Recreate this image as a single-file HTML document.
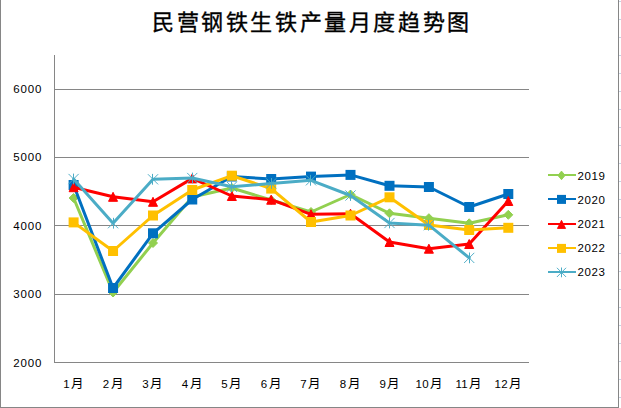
<!DOCTYPE html>
<html lang="zh-CN"><head><meta charset="utf-8"><style>
html,body{margin:0;padding:0;background:#fff;width:621px;height:408px;overflow:hidden}
svg{display:block}
.t{font-family:"Liberation Sans",sans-serif;font-size:11.5px;fill:#000}
.n{letter-spacing:0.8px}
.d{letter-spacing:0.4px}
.m{font-size:12.5px}
.title{font-family:"Liberation Serif",serif;font-size:22px;font-weight:500;letter-spacing:2.6px;fill:#000;stroke:#000;stroke-width:0.35px}
</style></head><body>
<svg width="621" height="408" viewBox="0 0 621 408">
<line x1="54" y1="89.5" x2="529" y2="89.5" stroke="#868686" stroke-width="1"/>
<line x1="54" y1="157.5" x2="529" y2="157.5" stroke="#868686" stroke-width="1"/>
<line x1="54" y1="225.5" x2="529" y2="225.5" stroke="#868686" stroke-width="1"/>
<line x1="54" y1="294.5" x2="529" y2="294.5" stroke="#868686" stroke-width="1"/>
<line x1="54" y1="362.5" x2="529" y2="362.5" stroke="#868686" stroke-width="1"/>
<line x1="54.5" y1="55" x2="54.5" y2="363" stroke="#868686" stroke-width="1"/>
<polyline points="73.60,198.00 113.05,292.50 153.00,243.00 192.25,197.00 231.85,188.00 271.20,200.00 311.00,212.00 350.50,194.50 389.50,213.30 428.90,218.20 469.20,223.30 508.30,214.80" fill="none" stroke="#92D050" stroke-width="3" stroke-linejoin="round" stroke-linecap="round"/>
<path d="M73.60 193.50L78.10 198.00L73.60 202.50L69.10 198.00Z" fill="#92D050" stroke="#92D050" stroke-width="1.00" stroke-linejoin="round"/>
<path d="M113.05 288.00L117.55 292.50L113.05 297.00L108.55 292.50Z" fill="#92D050" stroke="#92D050" stroke-width="1.00" stroke-linejoin="round"/>
<path d="M153.00 238.50L157.50 243.00L153.00 247.50L148.50 243.00Z" fill="#92D050" stroke="#92D050" stroke-width="1.00" stroke-linejoin="round"/>
<path d="M192.25 192.50L196.75 197.00L192.25 201.50L187.75 197.00Z" fill="#92D050" stroke="#92D050" stroke-width="1.00" stroke-linejoin="round"/>
<path d="M231.85 183.50L236.35 188.00L231.85 192.50L227.35 188.00Z" fill="#92D050" stroke="#92D050" stroke-width="1.00" stroke-linejoin="round"/>
<path d="M271.20 195.50L275.70 200.00L271.20 204.50L266.70 200.00Z" fill="#92D050" stroke="#92D050" stroke-width="1.00" stroke-linejoin="round"/>
<path d="M311.00 207.50L315.50 212.00L311.00 216.50L306.50 212.00Z" fill="#92D050" stroke="#92D050" stroke-width="1.00" stroke-linejoin="round"/>
<path d="M350.50 190.00L355.00 194.50L350.50 199.00L346.00 194.50Z" fill="#92D050" stroke="#92D050" stroke-width="1.00" stroke-linejoin="round"/>
<path d="M389.50 208.80L394.00 213.30L389.50 217.80L385.00 213.30Z" fill="#92D050" stroke="#92D050" stroke-width="1.00" stroke-linejoin="round"/>
<path d="M428.90 213.70L433.40 218.20L428.90 222.70L424.40 218.20Z" fill="#92D050" stroke="#92D050" stroke-width="1.00" stroke-linejoin="round"/>
<path d="M469.20 218.80L473.70 223.30L469.20 227.80L464.70 223.30Z" fill="#92D050" stroke="#92D050" stroke-width="1.00" stroke-linejoin="round"/>
<path d="M508.30 210.30L512.80 214.80L508.30 219.30L503.80 214.80Z" fill="#92D050" stroke="#92D050" stroke-width="1.00" stroke-linejoin="round"/>
<polyline points="73.60,185.00 113.05,288.00 153.00,233.30 192.25,199.50 231.85,176.50 271.20,179.00 311.00,176.60 350.50,174.90 389.50,185.80 428.90,187.00 469.20,207.00 508.30,194.00" fill="none" stroke="#0070C0" stroke-width="3" stroke-linejoin="round" stroke-linecap="round"/>
<rect x="68.60" y="180.00" width="10.00" height="10.00" fill="#0070C0"/>
<rect x="108.05" y="283.00" width="10.00" height="10.00" fill="#0070C0"/>
<rect x="148.00" y="228.30" width="10.00" height="10.00" fill="#0070C0"/>
<rect x="187.25" y="194.50" width="10.00" height="10.00" fill="#0070C0"/>
<rect x="226.85" y="171.50" width="10.00" height="10.00" fill="#0070C0"/>
<rect x="266.20" y="174.00" width="10.00" height="10.00" fill="#0070C0"/>
<rect x="306.00" y="171.60" width="10.00" height="10.00" fill="#0070C0"/>
<rect x="345.50" y="169.90" width="10.00" height="10.00" fill="#0070C0"/>
<rect x="384.50" y="180.80" width="10.00" height="10.00" fill="#0070C0"/>
<rect x="423.90" y="182.00" width="10.00" height="10.00" fill="#0070C0"/>
<rect x="464.20" y="202.00" width="10.00" height="10.00" fill="#0070C0"/>
<rect x="503.30" y="189.00" width="10.00" height="10.00" fill="#0070C0"/>
<polyline points="73.60,187.20 113.05,196.80 153.00,201.80 192.25,178.40 231.85,196.00 271.20,199.70 311.00,214.30 350.50,213.70 389.50,242.00 428.90,248.70 469.20,244.00 508.30,201.00" fill="none" stroke="#FF0000" stroke-width="3" stroke-linejoin="round" stroke-linecap="round"/>
<path d="M73.60 182.70L78.10 191.70L69.10 191.70Z" fill="#FF0000" stroke="#FF0000" stroke-width="1.00" stroke-linejoin="round"/>
<path d="M113.05 192.30L117.55 201.30L108.55 201.30Z" fill="#FF0000" stroke="#FF0000" stroke-width="1.00" stroke-linejoin="round"/>
<path d="M153.00 197.30L157.50 206.30L148.50 206.30Z" fill="#FF0000" stroke="#FF0000" stroke-width="1.00" stroke-linejoin="round"/>
<path d="M192.25 173.90L196.75 182.90L187.75 182.90Z" fill="#FF0000" stroke="#FF0000" stroke-width="1.00" stroke-linejoin="round"/>
<path d="M231.85 191.50L236.35 200.50L227.35 200.50Z" fill="#FF0000" stroke="#FF0000" stroke-width="1.00" stroke-linejoin="round"/>
<path d="M271.20 195.20L275.70 204.20L266.70 204.20Z" fill="#FF0000" stroke="#FF0000" stroke-width="1.00" stroke-linejoin="round"/>
<path d="M311.00 209.80L315.50 218.80L306.50 218.80Z" fill="#FF0000" stroke="#FF0000" stroke-width="1.00" stroke-linejoin="round"/>
<path d="M350.50 209.20L355.00 218.20L346.00 218.20Z" fill="#FF0000" stroke="#FF0000" stroke-width="1.00" stroke-linejoin="round"/>
<path d="M389.50 237.50L394.00 246.50L385.00 246.50Z" fill="#FF0000" stroke="#FF0000" stroke-width="1.00" stroke-linejoin="round"/>
<path d="M428.90 244.20L433.40 253.20L424.40 253.20Z" fill="#FF0000" stroke="#FF0000" stroke-width="1.00" stroke-linejoin="round"/>
<path d="M469.20 239.50L473.70 248.50L464.70 248.50Z" fill="#FF0000" stroke="#FF0000" stroke-width="1.00" stroke-linejoin="round"/>
<path d="M508.30 196.50L512.80 205.50L503.80 205.50Z" fill="#FF0000" stroke="#FF0000" stroke-width="1.00" stroke-linejoin="round"/>
<polyline points="73.60,222.40 113.05,251.00 153.00,215.50 192.25,190.00 231.85,175.70 271.20,188.60 311.00,222.00 350.50,215.50 389.50,197.30 428.90,225.00 469.20,230.00 508.30,227.80" fill="none" stroke="#FFC000" stroke-width="3" stroke-linejoin="round" stroke-linecap="round"/>
<rect x="68.60" y="217.40" width="10.00" height="10.00" fill="#FFC000"/>
<rect x="108.05" y="246.00" width="10.00" height="10.00" fill="#FFC000"/>
<rect x="148.00" y="210.50" width="10.00" height="10.00" fill="#FFC000"/>
<rect x="187.25" y="185.00" width="10.00" height="10.00" fill="#FFC000"/>
<rect x="226.85" y="170.70" width="10.00" height="10.00" fill="#FFC000"/>
<rect x="266.20" y="183.60" width="10.00" height="10.00" fill="#FFC000"/>
<rect x="306.00" y="217.00" width="10.00" height="10.00" fill="#FFC000"/>
<rect x="345.50" y="210.50" width="10.00" height="10.00" fill="#FFC000"/>
<rect x="384.50" y="192.30" width="10.00" height="10.00" fill="#FFC000"/>
<rect x="423.90" y="220.00" width="10.00" height="10.00" fill="#FFC000"/>
<rect x="464.20" y="225.00" width="10.00" height="10.00" fill="#FFC000"/>
<rect x="503.30" y="222.80" width="10.00" height="10.00" fill="#FFC000"/>
<polyline points="73.60,179.00 113.05,223.20 153.00,179.30 192.25,178.00 231.85,186.80 271.20,183.40 311.00,180.30 350.50,195.50 389.50,223.00 428.90,225.20 469.20,257.90" fill="none" stroke="#4BACC6" stroke-width="3" stroke-linejoin="round" stroke-linecap="round"/>
<path d="M73.50 173.60V184.40" stroke="#4BACC6" stroke-width="1" fill="none"/><path d="M68.50 173.90L78.70 184.10M68.50 184.10L78.70 173.90" stroke="#4BACC6" stroke-width="0.95" fill="none"/>
<path d="M113.50 217.80V228.60" stroke="#4BACC6" stroke-width="1" fill="none"/><path d="M107.95 218.10L118.15 228.30M107.95 228.30L118.15 218.10" stroke="#4BACC6" stroke-width="0.95" fill="none"/>
<path d="M152.50 173.90V184.70" stroke="#4BACC6" stroke-width="1" fill="none"/><path d="M147.90 174.20L158.10 184.40M147.90 184.40L158.10 174.20" stroke="#4BACC6" stroke-width="0.95" fill="none"/>
<path d="M192.50 172.60V183.40" stroke="#4BACC6" stroke-width="1" fill="none"/><path d="M187.15 172.90L197.35 183.10M187.15 183.10L197.35 172.90" stroke="#4BACC6" stroke-width="0.95" fill="none"/>
<path d="M231.50 181.40V192.20" stroke="#4BACC6" stroke-width="1" fill="none"/><path d="M226.75 181.70L236.95 191.90M226.75 191.90L236.95 181.70" stroke="#4BACC6" stroke-width="0.95" fill="none"/>
<path d="M271.50 178.00V188.80" stroke="#4BACC6" stroke-width="1" fill="none"/><path d="M266.10 178.30L276.30 188.50M266.10 188.50L276.30 178.30" stroke="#4BACC6" stroke-width="0.95" fill="none"/>
<path d="M310.50 174.90V185.70" stroke="#4BACC6" stroke-width="1" fill="none"/><path d="M305.90 175.20L316.10 185.40M305.90 185.40L316.10 175.20" stroke="#4BACC6" stroke-width="0.95" fill="none"/>
<path d="M350.50 190.10V200.90" stroke="#4BACC6" stroke-width="1" fill="none"/><path d="M345.40 190.40L355.60 200.60M345.40 200.60L355.60 190.40" stroke="#4BACC6" stroke-width="0.95" fill="none"/>
<path d="M389.50 217.60V228.40" stroke="#4BACC6" stroke-width="1" fill="none"/><path d="M384.40 217.90L394.60 228.10M384.40 228.10L394.60 217.90" stroke="#4BACC6" stroke-width="0.95" fill="none"/>
<path d="M428.50 219.80V230.60" stroke="#4BACC6" stroke-width="1" fill="none"/><path d="M423.80 220.10L434.00 230.30M423.80 230.30L434.00 220.10" stroke="#4BACC6" stroke-width="0.95" fill="none"/>
<path d="M469.50 252.50V263.30" stroke="#4BACC6" stroke-width="1" fill="none"/><path d="M464.10 252.80L474.30 263.00M464.10 263.00L474.30 252.80" stroke="#4BACC6" stroke-width="0.95" fill="none"/>
<line x1="548" y1="175" x2="576" y2="175" stroke="#92D050" stroke-width="2"/>
<path d="M561.50 171.10L565.10 175.40L561.50 179.70L557.90 175.40Z" fill="#92D050" stroke="#92D050" stroke-width="0.90" stroke-linejoin="round"/>
<text x="577.5" y="179.8" class="t n" style="letter-spacing:0.6px">2019</text>
<line x1="548" y1="199" x2="576" y2="199" stroke="#0070C0" stroke-width="2"/>
<rect x="557.00" y="194.90" width="9.00" height="9.00" fill="#0070C0"/>
<text x="577.5" y="203.8" class="t n" style="letter-spacing:0.6px">2020</text>
<line x1="548" y1="224" x2="576" y2="224" stroke="#FF0000" stroke-width="2"/>
<path d="M561.50 220.35L565.55 228.45L557.45 228.45Z" fill="#FF0000" stroke="#FF0000" stroke-width="0.90" stroke-linejoin="round"/>
<text x="577.5" y="227.8" class="t n" style="letter-spacing:0.6px">2021</text>
<line x1="548" y1="248" x2="576" y2="248" stroke="#FFC000" stroke-width="2"/>
<rect x="557.00" y="243.90" width="9.00" height="9.00" fill="#FFC000"/>
<text x="577.5" y="251.8" class="t n" style="letter-spacing:0.6px">2022</text>
<line x1="548" y1="272" x2="576" y2="272" stroke="#4BACC6" stroke-width="2"/>
<path d="M561.50 267.51V277.29" stroke="#4BACC6" stroke-width="1" fill="none"/><path d="M556.91 267.81L566.09 276.99M556.91 276.99L566.09 267.81" stroke="#4BACC6" stroke-width="0.95" fill="none"/>
<text x="577.5" y="275.8" class="t n" style="letter-spacing:0.6px">2023</text>
<text x="13.3" y="92.8" class="t n">6000</text>
<text x="13.3" y="161.3" class="t n">5000</text>
<text x="13.3" y="229.8" class="t n">4000</text>
<text x="13.3" y="298.3" class="t n">3000</text>
<text x="13.3" y="366.8" class="t n">2000</text>
<text x="73.7" y="388" class="t" text-anchor="middle"><tspan class="d">1</tspan><tspan dx="1.2" class="m">月</tspan></text>
<text x="113.2" y="388" class="t" text-anchor="middle"><tspan class="d">2</tspan><tspan dx="1.2" class="m">月</tspan></text>
<text x="152.7" y="388" class="t" text-anchor="middle"><tspan class="d">3</tspan><tspan dx="1.2" class="m">月</tspan></text>
<text x="192.3" y="388" class="t" text-anchor="middle"><tspan class="d">4</tspan><tspan dx="1.2" class="m">月</tspan></text>
<text x="231.8" y="388" class="t" text-anchor="middle"><tspan class="d">5</tspan><tspan dx="1.2" class="m">月</tspan></text>
<text x="271.3" y="388" class="t" text-anchor="middle"><tspan class="d">6</tspan><tspan dx="1.2" class="m">月</tspan></text>
<text x="310.8" y="388" class="t" text-anchor="middle"><tspan class="d">7</tspan><tspan dx="1.2" class="m">月</tspan></text>
<text x="350.3" y="388" class="t" text-anchor="middle"><tspan class="d">8</tspan><tspan dx="1.2" class="m">月</tspan></text>
<text x="389.9" y="388" class="t" text-anchor="middle"><tspan class="d">9</tspan><tspan dx="1.2" class="m">月</tspan></text>
<text x="429.4" y="388" class="t" text-anchor="middle"><tspan class="d">10</tspan><tspan dx="1.2" class="m">月</tspan></text>
<text x="468.9" y="388" class="t" text-anchor="middle"><tspan class="d">11</tspan><tspan dx="1.2" class="m">月</tspan></text>
<text x="508.4" y="388" class="t" text-anchor="middle"><tspan class="d">12</tspan><tspan dx="1.2" class="m">月</tspan></text>
<line x1="0.5" y1="0" x2="0.5" y2="408" stroke="#868686"/>
<line x1="0" y1="407.5" x2="619" y2="407.5" stroke="#868686"/>
<line x1="618.5" y1="0" x2="618.5" y2="408" stroke="#868686"/>
<line x1="619" y1="1.5" x2="621" y2="1.5" stroke="#C8D2E4"/>
<line x1="619" y1="19.5" x2="621" y2="19.5" stroke="#C8D2E4"/>
<line x1="619" y1="37.5" x2="621" y2="37.5" stroke="#C8D2E4"/>
<line x1="619" y1="55.5" x2="621" y2="55.5" stroke="#C8D2E4"/>
<line x1="619" y1="73.5" x2="621" y2="73.5" stroke="#C8D2E4"/>
<line x1="619" y1="91.5" x2="621" y2="91.5" stroke="#C8D2E4"/>
<line x1="619" y1="109.5" x2="621" y2="109.5" stroke="#C8D2E4"/>
<line x1="619" y1="127.5" x2="621" y2="127.5" stroke="#C8D2E4"/>
<line x1="619" y1="145.5" x2="621" y2="145.5" stroke="#C8D2E4"/>
<line x1="619" y1="163.5" x2="621" y2="163.5" stroke="#C8D2E4"/>
<line x1="619" y1="181.5" x2="621" y2="181.5" stroke="#C8D2E4"/>
<line x1="619" y1="199.5" x2="621" y2="199.5" stroke="#C8D2E4"/>
<line x1="619" y1="217.5" x2="621" y2="217.5" stroke="#C8D2E4"/>
<line x1="619" y1="235.5" x2="621" y2="235.5" stroke="#C8D2E4"/>
<line x1="619" y1="253.5" x2="621" y2="253.5" stroke="#C8D2E4"/>
<line x1="619" y1="271.5" x2="621" y2="271.5" stroke="#C8D2E4"/>
<line x1="619" y1="289.5" x2="621" y2="289.5" stroke="#C8D2E4"/>
<line x1="619" y1="307.5" x2="621" y2="307.5" stroke="#C8D2E4"/>
<line x1="619" y1="325.5" x2="621" y2="325.5" stroke="#C8D2E4"/>
<line x1="619" y1="343.5" x2="621" y2="343.5" stroke="#C8D2E4"/>
<line x1="619" y1="361.5" x2="621" y2="361.5" stroke="#C8D2E4"/>
<line x1="619" y1="379.5" x2="621" y2="379.5" stroke="#C8D2E4"/>
<line x1="619" y1="397.5" x2="621" y2="397.5" stroke="#C8D2E4"/>
<text x="312" y="30" class="title" text-anchor="middle">民营钢铁生铁产量月度趋势图</text>
</svg>
</body></html>
